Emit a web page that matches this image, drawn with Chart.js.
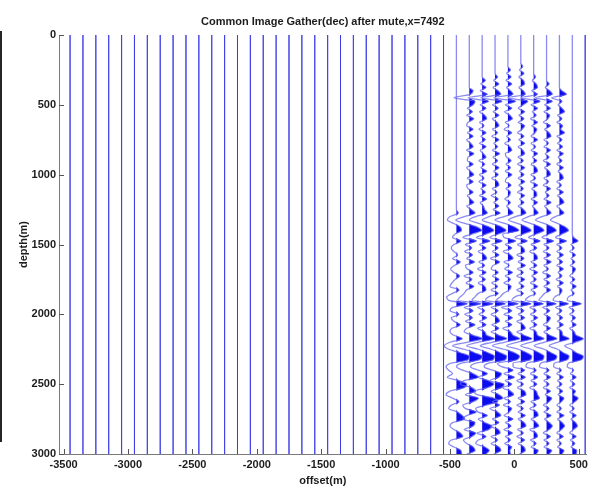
<!DOCTYPE html>
<html>
<head>
<meta charset="utf-8">
<title>Common Image Gather</title>
<script src="https://cdn.jsdelivr.net/npm/chart.js@4.4.1/dist/chart.umd.min.js"></script>
<style>
  html, body { margin: 0; padding: 0; background: #ffffff; overflow: hidden; }
  #wrap { position: relative; width: 592px; height: 491px; }
</style>
</head>
<body>
<div id="wrap"><canvas id="gather" width="592" height="491"></canvas></div>
<script>
// Axis tick values
const xTicks = [-3500, -3000, -2500, -2000, -1500, -1000, -500, 0, 500];
const yTicks = [0, 500, 1000, 1500, 2000, 2500, 3000];

// Trace positions (offset, m)
const traceOffsets = [
  -3450, -3350, -3250, -3150, -3050, -2950, -2850, -2750, -2650, -2550,
  -2450, -2350, -2250, -2150, -2050, -1950, -1850, -1750, -1650, -1550,
  -1450, -1350, -1250, -1150, -1050, -950, -850, -750, -650, -550,
  -450, -350, -250, -150, -50, 50, 150, 250, 350, 450, 550
];

// Depth sampling of the amplitude series (m)
const depthStep = 25;

// Trace amplitudes after mute, one sample per 25 m from 0 to 3000 m,
// in units of trace spacing (positive = to the right, filled)
const ampOffsetM450 = [
  0, 0, 0, 0, 0, 0, 0, 0, 0, 0,
  0, 0, 0, 0, 0, 0, 0, 0, 0, 0,
  0, 0, 0, 0, 0, 0, 0, 0, 0, 0,
  0, 0, 0, 0, 0, 0, 0, 0, 0, 0,
  0, 0, 0, 0, 0, 0, 0, 0, 0, 0,
  0, 0.15, -0.5, -0.7, -0.2, 0.3, 0.4, -0.1, -0.3, 0.35,
  -0.2, -0.4, -0.2, 0.1, -0.3, 0.3, -0.15, -0.45, -0.2, 0.25,
  -0.1, -0.35, -0.5, 0.2, -0.3, -0.75, -0.6, 0.85, -0.3, -0.5,
  0.2, -0.4, -0.2, 0.3, -0.35, -0.5, -0.2, 0.45, -0.5, -0.95,
  -0.6, 0.3, 1.0, 0.9, -0.4, -0.8, -0.6, -0.3, -0.7, 0.2,
  0.8, 0.6, -0.5, -0.8, -0.3, 0.2, -0.4, -0.6, 0.1, 0.45,
  0.65, -0.3, -0.5, -0.2, 0.3, 0.5, -0.4, -0.6, -0.2, 0.35,
  0.4
];
const ampOffsetM350 = [
  0, 0, 0, 0, 0, 0, 0, 0, 0, 0,
  0, 0, 0, 0, 0, 0, 0.3, 0.1, -1.2, 0.45,
  0.3, -0.15, 0.25, -0.2, 0.35, -0.1, -0.2, 0.3, -0.15, 0.3,
  -0.2, 0.1, 0.3, -0.2, 0.35, -0.1, -0.15, 0.3, -0.2, 0.1,
  0.35, -0.15, 0.3, -0.2, -0.1, 0.3, -0.15, 0.1, 0.35, -0.2,
  0.15, 0.45, -0.4, -1.05, -0.3, 0.6, 0.95, 0.2, -0.5, 0.55,
  -0.3, 0.2, -0.35, 0.25, -0.2, 0.4, -0.3, -0.15, 0.3, -0.4,
  0.2, -0.25, 0.35, -0.2, -0.4, -0.7, -0.9, 0.9, -0.4, 0.3,
  -0.35, 0.25, -0.3, 0.45, -0.2, -0.4, 0.3, 1.0, -0.2, -1.3,
  -0.4, 0.4, 1.0, 0.8, -0.6, -1.0, -0.5, 0.3, 0.7, -0.4,
  -0.7, 0.2, 0.5, -0.3, 0.7, 0.3, -0.5, -0.3, 0.55, -0.2,
  -0.5, 0.45, 0.3, -0.4, 0.5, 0.2, -0.45, -0.2, 0.3, 0.45,
  -0.2
];
const ampOffsetM250 = [
  0, 0, 0, 0, 0, 0, 0, 0, 0, 0,
  0, 0, 0, 0.25, -0.1, 0.3, -0.15, 0.4, -1.1, 0.5,
  -0.15, 0.3, -0.2, 0.2, 0.35, -0.2, 0.15, -0.25, 0.3, -0.1,
  0.25, -0.2, 0.3, -0.15, 0.1, 0.3, -0.25, 0.2, -0.1, 0.35,
  -0.2, 0.15, -0.25, 0.3, -0.1, 0.25, -0.2, 0.35, -0.15, 0.1,
  0.2, 0.4, -0.5, -1.0, -0.2, 0.55, 0.9, 0.3, -0.45, 0.6,
  -0.2, 0.3, -0.3, 0.2, 0.35, -0.25, 0.2, -0.35, 0.3, -0.2,
  0.25, -0.3, 0.2, 0.3, -0.3, -0.55, -0.8, 0.85, -0.35, 0.2,
  -0.25, 0.35, -0.2, 0.3, -0.35, 0.2, 0.35, 0.95, -0.3, -1.2,
  -0.3, 0.45, 0.95, 0.85, -0.5, -0.9, -0.3, 0.4, -0.3, 0.5,
  0.9, 0.4, -0.6, -0.4, 0.9, 1.2, 0.3, -0.5, -0.3, 0.4,
  -0.3, 0.2, 0.75, 0.5, -0.4, 0.3, -0.3, -0.5, 0.2, 0.55,
  0.3
];
const ampOffsetM150 = [
  0, 0, 0, 0, 0, 0, 0, 0, 0, 0,
  0, 0, 0.2, -0.1, 0.3, -0.15, 0.25, 0.45, -1.1, 0.55,
  -0.2, 0.25, -0.15, 0.3, -0.2, 0.15, 0.3, -0.2, 0.2, -0.25,
  0.3, -0.1, 0.2, -0.2, 0.35, -0.15, 0.2, -0.2, 0.3, -0.1,
  0.25, -0.25, 0.2, 0.3, -0.2, 0.15, -0.3, 0.25, -0.1, 0.3,
  -0.15, 0.4, -0.45, -1.0, -0.25, 0.5, 0.85, 0.25, -0.4, 0.55,
  -0.25, 0.25, -0.2, 0.3, -0.35, 0.35, -0.15, -0.3, 0.25, -0.2,
  0.3, -0.25, 0.2, -0.3, 0.25, -0.5, -0.75, 0.8, -0.3, 0.25,
  -0.3, 0.2, 0.35, -0.25, 0.3, -0.3, 0.3, 0.9, -0.25, -1.15,
  -0.3, 0.4, 0.9, 0.8, -0.5, -0.85, -0.2, 0.5, 0.3, -0.4,
  0.7, 0.5, -0.3, 0.3, 0.6, -0.2, 0.35, -0.4, 0.2, 0.45,
  -0.2, 0.3, -0.35, 0.25, 0.4, -0.3, 0.2, -0.3, 0.3, 0.45,
  -0.1
];
const ampOffsetM50 = [
  0, 0, 0, 0, 0, 0, 0, 0, 0, 0,
  0.2, -0.1, 0.25, -0.15, 0.3, -0.1, 0.2, 0.4, -1.1, 0.6,
  -0.2, 0.3, -0.25, 0.15, 0.35, -0.2, 0.1, -0.3, 0.3, -0.1,
  0.2, -0.25, 0.15, 0.3, -0.2, -0.1, 0.25, -0.15, 0.2, -0.2,
  0.3, -0.1, -0.2, 0.25, -0.15, 0.2, 0.1, -0.25, 0.2, -0.1,
  0.15, 0.4, -0.3, -1.0, -0.2, 0.5, 0.85, -0.4, -0.3, 0.6,
  -0.2, 0.3, -0.35, 0.2, 0.4, -0.3, 0.1, -0.25, 0.35, -0.2,
  0.2, -0.3, 0.25, 0.1, -0.35, -0.6, -0.9, 0.8, -0.5, 0.3,
  -0.3, 0.35, -0.2, 0.3, -0.4, 0.2, 0.4, 0.9, -0.3, -1.2,
  -0.3, 0.5, 0.9, 0.7, -0.8, -0.5, 0.4, -0.3, 0.5, -0.2,
  0.3, -0.4, 0.2, 0.45, -0.3, 0.2, -0.35, 0.3, 0.1, -0.3,
  0.4, -0.2, 0.25, -0.3, 0.35, -0.2, 0.2, -0.25, 0.3, 0.15,
  0.2
];
const ampOffset50 = [
  0, 0, 0, 0, 0, 0, 0, 0, 0, 0.15,
  -0.1, 0.25, -0.15, 0.2, 0.3, -0.15, 0.2, 0.35, -1.0, 0.55,
  0.2, -0.2, 0.3, -0.15, 0.25, -0.2, 0.3, 0.1, -0.25, 0.25,
  -0.15, 0.3, -0.2, 0.15, 0.3, -0.2, 0.2, -0.25, 0.3, -0.1,
  0.25, -0.2, 0.3, -0.15, 0.2, -0.25, 0.3, -0.1, 0.25, -0.2,
  0.2, 0.4, -0.4, -0.95, -0.2, 0.45, 0.8, 0.2, -0.45, 0.5,
  -0.25, 0.2, 0.3, -0.3, 0.25, -0.2, 0.35, -0.25, 0.2, -0.3,
  0.3, -0.15, 0.25, -0.3, 0.2, -0.45, -0.7, 0.8, -0.35, 0.25,
  -0.2, 0.3, -0.3, 0.2, 0.35, -0.3, 0.25, 0.85, -0.3, -1.1,
  -0.2, 0.45, 0.85, 0.75, -0.6, -0.6, 0.3, -0.2, 0.35, -0.3,
  0.2, -0.25, 0.3, 0.4, -0.2, 0.3, -0.3, 0.2, -0.2, 0.35,
  -0.2, 0.25, 0.4, -0.25, 0.2, -0.3, 0.3, -0.2, 0.25, 0.35,
  -0.1
];
const ampOffset150 = [
  0, 0, 0, 0, 0, 0, 0, 0, 0, 0,
  0, 0, 0.15, -0.1, 0.2, 0.3, -0.15, 0.3, -1.0, 0.5,
  -0.2, 0.3, -0.1, 0.2, -0.25, 0.3, -0.15, 0.25, 0.1, -0.2,
  0.3, -0.2, 0.15, -0.2, 0.3, -0.1, 0.25, -0.2, 0.2, 0.3,
  -0.2, 0.15, -0.25, 0.3, -0.15, 0.2, 0.25, -0.2, 0.3, -0.1,
  0.15, 0.35, -0.4, -0.9, -0.2, 0.5, 0.8, 0.2, -0.4, 0.5,
  -0.2, 0.25, -0.3, 0.2, 0.3, -0.2, 0.25, -0.3, 0.3, -0.15,
  0.2, -0.25, 0.3, -0.2, 0.15, -0.4, -0.65, 0.75, -0.3, 0.2,
  -0.25, 0.3, -0.2, 0.25, -0.3, 0.2, 0.3, 0.8, -0.25, -1.0,
  -0.2, 0.4, 0.8, 0.7, -0.5, -0.6, 0.2, -0.25, 0.3, -0.2,
  0.25, -0.3, 0.2, 0.3, 0.45, -0.2, 0.2, -0.3, 0.25, 0.35,
  -0.2, 0.2, 0.4, -0.3, 0.2, 0.3, -0.25, 0.2, -0.2, 0.35,
  0.2
];
const ampOffset250 = [
  0, 0, 0, 0, 0, 0, 0, 0, 0, 0,
  0, 0, 0, 0, 0.2, -0.1, 0.25, 0.45, -0.9, 0.45,
  -0.15, 0.3, -0.2, 0.25, 0.1, -0.25, 0.3, -0.15, 0.2, 0.35,
  -0.2, 0.15, -0.2, 0.3, -0.1, 0.2, -0.25, 0.3, -0.15, 0.2,
  0.3, -0.2, 0.15, -0.25, 0.3, -0.1, 0.2, -0.2, 0.35, -0.15,
  0.1, 0.35, -0.35, -0.85, -0.15, 0.45, 0.75, 0.2, -0.35, 0.55,
  -0.2, 0.2, -0.25, 0.3, -0.2, 0.35, -0.2, 0.15, -0.3, 0.3,
  -0.2, 0.25, -0.2, 0.3, -0.15, -0.4, -0.6, 0.75, -0.3, 0.25,
  -0.2, 0.3, 0.15, -0.25, 0.3, -0.2, 0.25, 0.8, -0.2, -0.95,
  -0.2, 0.35, 0.8, 0.65, -0.45, -0.55, 0.2, -0.2, 0.3, -0.2,
  0.2, -0.25, 0.3, -0.1, 0.4, 0.2, -0.25, 0.2, -0.2, 0.35,
  -0.15, 0.2, 0.45, 0.2, -0.25, 0.3, -0.2, 0.2, -0.2, 0.4,
  0.2
];
const ampOffset350 = [
  0, 0, 0, 0, 0, 0, 0, 0, 0, 0,
  0, 0, 0, 0, 0, 0, 0.2, 0.55, -0.6, 0.2,
  -0.1, 0.2, 0.4, -0.15, 0.2, -0.2, 0.25, 0.1, 0.4, -0.2,
  0.2, -0.15, 0.25, -0.2, 0.3, -0.1, 0.2, -0.2, 0.3, -0.1,
  0.2, 0.3, -0.2, 0.15, -0.2, 0.3, -0.15, 0.2, 0.35, -0.2,
  0.1, 0.35, -0.3, -0.7, -0.1, 0.45, 0.7, 0.2, -0.3, 0.55,
  -0.2, 0.2, -0.2, 0.3, -0.15, 0.25, -0.2, 0.3, -0.1, 0.2,
  -0.25, 0.3, -0.15, 0.2, 0.1, -0.35, -0.5, 0.7, -0.3, 0.2,
  -0.2, 0.25, -0.15, 0.3, -0.2, 0.2, 0.25, 0.75, -0.15, -0.8,
  -0.15, 0.3, 0.75, 0.6, -0.4, -0.45, 0.15, -0.2, 0.3, -0.15,
  0.2, -0.2, 0.25, -0.1, 0.35, 0.15, -0.2, 0.15, -0.2, 0.35,
  -0.15, 0.2, 0.4, 0.15, -0.2, 0.3, -0.2, 0.15, -0.15, 0.35,
  0.2
];
const ampOffset450 = [
  0, 0, 0, 0, 0, 0, 0, 0, 0, 0,
  0, 0, 0, 0, 0, 0, 0, 0, 0, 0,
  0, 0, 0, 0, 0, 0, 0, 0, 0, 0,
  0, 0, 0, 0, 0, 0, 0, 0, 0, 0,
  0, 0, 0, 0, 0, 0, 0, 0, 0, 0,
  0, 0, 0, 0, 0, 0, 0, 0, 0.1, 0.45,
  -0.1, 0.15, -0.2, 0.25, -0.1, 0.2, -0.15, 0.25, 0.1, -0.2,
  0.2, -0.15, 0.3, -0.1, 0.15, -0.3, -0.4, 0.7, -0.25, 0.15,
  -0.2, 0.25, -0.1, 0.3, -0.2, 0.15, 0.3, 0.85, 0.2, -0.6,
  -0.1, 0.3, 0.85, 0.7, -0.3, -0.4, 0.1, -0.15, 0.3, -0.15,
  0.2, -0.2, 0.25, 0.1, 0.45, 0.2, -0.2, 0.15, -0.2, 0.3,
  -0.1, 0.25, 0.4, 0.1, -0.2, 0.3, -0.15, 0.2, -0.1, 0.35,
  0.3
];

const liveTraces = [
  { offset: -450, amp: ampOffsetM450 },
  { offset: -350, amp: ampOffsetM350 },
  { offset: -250, amp: ampOffsetM250 },
  { offset: -150, amp: ampOffsetM150 },
  { offset: -50,  amp: ampOffsetM50 },
  { offset: 50,   amp: ampOffset50 },
  { offset: 150,  amp: ampOffset150 },
  { offset: 250,  amp: ampOffset250 },
  { offset: 350,  amp: ampOffset350 },
  { offset: 450,  amp: ampOffset450 }
];

const TITLE = 'Common Image Gather(dec) after mute,x=7492';
const X_LABEL = 'offset(m)';
const Y_LABEL = 'depth(m)';

// Styling
const TRACE_SPACING = 100;
const plainColor = 'rgba(50, 50, 230, 0.62)';
const wiggleColor = 'rgba(100, 100, 238, 0.75)';
const lobeColor = 'rgb(12, 12, 238)';
const axisColor = '#7a7a7a';
const textColor = '#1c1c1c';
const fontFamily = '"Liberation Sans", Arial, Helvetica, sans-serif';

for (const t of liveTraces) {
  if (t.amp.length !== 3000 / depthStep + 1) {
    throw new Error('trace ' + t.offset + ' has ' + t.amp.length + ' samples');
  }
}

const liveOffsets = new Set(liveTraces.map(t => t.offset));
const datasets = [];

// variable-area lobes (positive half of each live trace)
for (const t of liveTraces) {
  datasets.push({
    data: t.amp.map((a, i) => ({ x: t.offset + Math.max(a, 0) * TRACE_SPACING, y: i * depthStep })),
    borderColor: 'rgba(0,0,0,0)',
    borderWidth: 0,
    backgroundColor: lobeColor,
    cubicInterpolationMode: 'monotone',
    fill: { value: t.offset },
    order: 2
  });
}
// wiggle outlines
for (const t of liveTraces) {
  datasets.push({
    data: t.amp.map((a, i) => ({ x: t.offset + a * TRACE_SPACING, y: i * depthStep })),
    borderColor: wiggleColor,
    borderWidth: 1.3,
    cubicInterpolationMode: 'monotone',
    fill: false,
    order: 1
  });
}
// dead (fully muted) traces
for (const off of traceOffsets) {
  if (liveOffsets.has(off)) continue;
  datasets.push({
    data: [{ x: off, y: 0 }, { x: off, y: 3000 }],
    borderColor: plainColor,
    borderWidth: 1,
    fill: false,
    order: 3
  });
}

// inward tick marks and the dark frame edge at the far left
const decorations = {
  id: 'decorations',
  beforeDraw(chart) {
    const ctx = chart.ctx;
    ctx.save();
    ctx.fillStyle = '#ffffff';
    ctx.fillRect(0, 0, chart.width, chart.height);
    ctx.fillStyle = '#262626';
    ctx.fillRect(0, 31, 2, 411);
    ctx.restore();
  },
  afterDatasetsDraw(chart) {
    const ctx = chart.ctx;
    const xs = chart.scales.x, ys = chart.scales.y;
    const area = chart.chartArea;
    ctx.save();
    ctx.strokeStyle = '#555555';
    ctx.lineWidth = 1;
    ctx.beginPath();
    for (const v of xTicks) {
      const px = Math.round(xs.getPixelForValue(v)) + 0.5;
      ctx.moveTo(px, area.bottom);
      ctx.lineTo(px, area.bottom - 5);
    }
    for (const v of yTicks) {
      const py = Math.round(ys.getPixelForValue(v)) + 0.5;
      ctx.moveTo(area.left, py);
      ctx.lineTo(area.left + 5, py);
    }
    ctx.stroke();
    ctx.restore();
  }
};

const tickFont = { family: fontFamily, size: 11, weight: 'bold' };

new Chart(document.getElementById('gather'), {
  type: 'line',
  data: { datasets },
  options: {
    responsive: false,
    devicePixelRatio: 1,
    animation: false,
    indexAxis: 'y',
    events: [],
    elements: { point: { radius: 0 }, line: { tension: 0 } },
    layout: { padding: { left: 0, right: 1, top: 0, bottom: 0 } },
    plugins: {
      legend: { display: false },
      tooltip: { enabled: false },
      title: {
        display: true,
        text: TITLE,
        color: textColor,
        fullSize: false,
        font: { family: fontFamily, size: 11, weight: 'bold', lineHeight: 1.2 },
        padding: { top: 15.4, bottom: 6.4 }
      }
    },
    scales: {
      x: {
        type: 'linear',
        position: 'bottom',
        min: -3536,
        max: 561,
        afterBuildTicks: s => { s.ticks = xTicks.map(v => ({ value: v })); },
        afterFit: s => { s.height = 37; },
        grid: { display: true, drawOnChartArea: false, drawTicks: false },
        border: { display: true, color: axisColor, width: 1 },
        ticks: { color: textColor, font: tickFont, padding: 4, maxRotation: 0, autoSkip: false, callback: v => String(v) },
        title: { display: true, text: X_LABEL, color: textColor, font: tickFont, padding: { top: 0, bottom: 3 } }
      },
      y: {
        type: 'linear',
        reverse: true,
        min: 0,
        max: 3000,
        afterBuildTicks: s => { s.ticks = yTicks.map(v => ({ value: v })); },
        afterFit: s => { s.width = 59; },
        grid: { display: true, drawOnChartArea: false, drawTicks: false },
        border: { display: true, color: axisColor, width: 1 },
        ticks: { color: textColor, font: tickFont, padding: 3, autoSkip: false, callback: v => String(v) },
        title: { display: true, text: Y_LABEL, color: textColor, font: tickFont, padding: { top: 17, bottom: 0 } }
      }
    }
  },
  plugins: [decorations]
});
</script>
</body>
</html>
